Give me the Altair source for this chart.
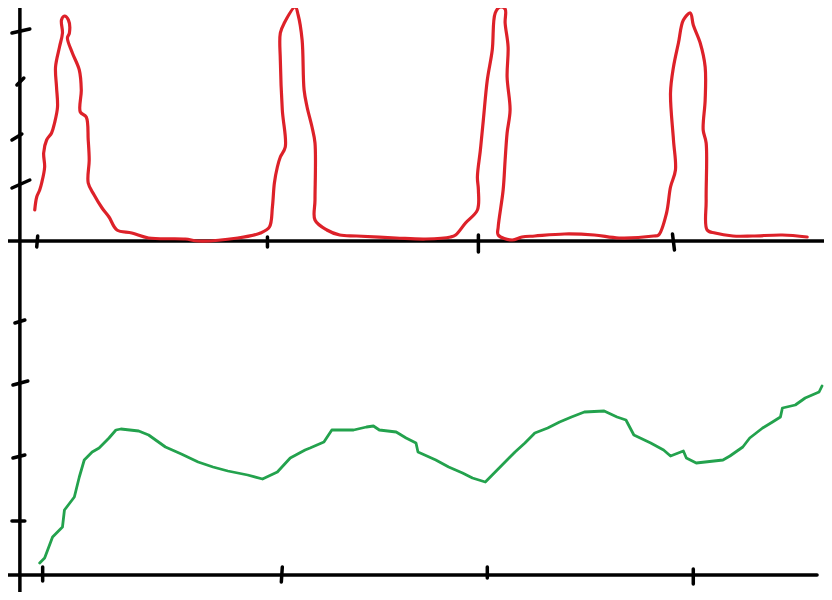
import altair as alt
import pandas as pd

# ---------------- data ----------------
# top panel (red): time vs value
red_t = [3.5, 3.7, 4.0, 4.2, 4.5, 4.4, 4.7, 5.2, 5.5, 5.8,
         5.7, 5.6, 6.0, 6.3, 6.2, 6.5, 6.9, 7.0, 6.8, 7.3,
         8.0, 8.2, 8.1, 8.7, 8.9, 9.0, 8.9, 9.5, 10.3, 11.0,
         11.8, 13.3, 15.0, 18.7, 20.0, 24.0, 26.3, 27.2, 27.5, 27.7,
         28.0, 28.3, 28.8, 28.5, 28.3, 28.3, 28.7, 29.8, 30.1, 30.5,
         30.7, 31.0, 31.5, 31.8, 31.8, 31.8, 33.0, 34.3, 36.0, 40.0,
         43.0, 45.5, 46.0, 47.0, 48.2, 48.3, 48.2, 48.5, 48.8, 49.2,
         49.7, 50.0, 50.5, 51.0, 51.0, 51.3, 51.2, 51.5, 51.2, 51.0,
         50.8, 50.3, 50.3, 51.7, 52.7, 54.0, 57.0, 60.0, 62.5, 66.0,
         66.5, 67.3, 67.7, 68.2, 68.0, 67.7, 68.0, 68.5, 69.0, 69.7,
         70.0, 70.7, 71.2, 71.2, 71.0, 71.3, 71.3, 71.4, 72.2, 74.0,
         76.0, 79.0, 81.5]
red_v = [3.1, 4.4, 5.1, 5.8, 7.4, 8.8, 10.1, 10.8, 11.8, 13.4,
         15.4, 17.4, 19.4, 20.8, 22.1, 22.5, 22.1, 20.8, 20.3, 18.8,
         17.1, 15.1, 12.9, 12.4, 10.1, 8.1, 5.8, 4.6, 3.3, 2.4,
         1.1, 0.8, 0.3, 0.2, 0.0, 0.3, 0.8, 1.4, 3.4, 5.8,
         7.4, 8.4, 9.4, 13.1, 18.1, 20.8, 21.8, 23.4, 22.6, 20.1,
         15.1, 13.4, 11.4, 9.8, 4.1, 2.1, 1.1, 0.6, 0.5, 0.3,
         0.2, 0.4, 0.6, 1.8, 3.1, 5.1, 6.4, 9.1, 12.1, 16.1,
         19.1, 22.8, 23.4, 23.2, 21.8, 19.4, 16.4, 13.1, 10.8, 8.1,
         5.1, 1.4, 0.6, 0.1, 0.4, 0.5, 0.7, 0.6, 0.3, 0.5,
         0.6, 2.8, 5.4, 7.1, 10.1, 14.8, 17.4, 19.8, 22.1, 22.8,
         21.6, 19.8, 17.4, 14.1, 11.1, 9.8, 4.1, 1.1, 0.8, 0.5,
         0.5, 0.6, 0.4]

# bottom panel (green): time vs value
green_t = [4.0, 4.5, 5.3, 6.3, 6.5, 7.5, 8.0, 8.5, 9.3, 10.0,
           11.0, 11.7, 12.2, 14.0, 15.0, 16.7, 18.3, 20.0, 21.5, 23.0,
           25.0, 26.5, 28.0, 29.3, 30.8, 31.3, 32.7, 33.5, 35.7, 37.0,
           37.7, 38.3, 40.0, 41.0, 42.0, 42.2, 44.0, 45.3, 46.7, 47.7,
           49.0, 50.0, 52.0, 53.0, 54.0, 55.3, 56.5, 57.7, 59.0, 61.0,
           62.3, 63.2, 64.0, 65.7, 67.0, 67.7, 69.0, 69.3, 70.3, 73.0,
           73.7, 75.0, 75.7, 77.0, 78.0, 78.8, 79.0, 80.3, 81.3, 82.7,
           83.0]
green_v = [1.2, 1.7, 3.8, 4.8, 6.5, 7.8, 9.8, 11.5, 12.3, 12.7,
           13.7, 14.5, 14.6, 14.4, 14.0, 12.8, 12.1, 11.3, 10.8, 10.4,
           10.0, 9.6, 10.3, 11.7, 12.5, 12.7, 13.3, 14.5, 14.5, 14.8,
           14.9, 14.5, 14.3, 13.7, 13.2, 12.3, 11.5, 10.8, 10.2, 9.7,
           9.3, 10.3, 12.3, 13.2, 14.2, 14.7, 15.3, 15.8, 16.3, 16.4,
           15.8, 15.5, 14.0, 13.2, 12.5, 11.9, 12.4, 11.7, 11.2, 11.5,
           11.9, 12.8, 13.7, 14.7, 15.3, 15.8, 16.7, 17.0, 17.7, 18.3,
           18.9]

# hand-drawn axes of the top panel: x-axis line, x ticks, y ticks (start/end)
red_axis_t1 = [0.8, 3.8, 27.0, 48.3, 67.9, 1.2, 1.7, 1.2, 1.2]
red_axis_t2 = [83.2, 3.7, 27.0, 48.3, 68.1, 3.0, 2.4, 2.2, 3.0]
red_axis_v1 = [0.0, 0.5, 0.4, 0.6, 0.7, 20.8, 15.6, 10.1, 5.3]
red_axis_v2 = [0.0, -0.6, -0.6, -1.1, -0.9, 21.2, 16.3, 10.7, 6.1]

# hand-drawn axes of the bottom panel: y-axis line (full height), x-axis line, x ticks, y ticks
green_axis_t1 = [2.0, 0.8, 4.3, 28.5, 49.2, 70.0, 1.5, 1.3, 1.3, 1.2]
green_axis_t2 = [2.0, 82.5, 4.3, 28.4, 49.2, 70.0, 2.5, 2.8, 2.5, 2.5]
green_axis_v1 = [56.7, 0.0, 0.8, 0.8, 0.8, 0.6, 25.2, 19.0, 11.7, 5.4]
green_axis_v2 = [-1.7, 0.0, -0.6, -0.7, -0.3, -0.9, 25.5, 19.4, 12.0, 5.4]

# ---------------- chart ----------------
RED = "#dd2129"
GREEN = "#23a24d"
INK = "#000000"

red_df = pd.DataFrame({"t": red_t, "v": red_v, "i": list(range(len(red_t)))})
green_df = pd.DataFrame({"t": green_t, "v": green_v, "i": list(range(len(green_t)))})
red_axes = pd.DataFrame({"t1": red_axis_t1, "t2": red_axis_t2, "v1": red_axis_v1, "v2": red_axis_v2})
green_axes = pd.DataFrame({"t1": green_axis_t1, "t2": green_axis_t2, "v1": green_axis_v1, "v2": green_axis_v2})

xs = alt.Scale(domain=[0.8, 83.2], nice=False, zero=False)
ys_red = alt.Scale(domain=[-35.1, 23.3], nice=False, zero=False)
ys_green = alt.Scale(domain=[-1.7, 56.7], nice=False, zero=False)

red_axis_layer = alt.Chart(red_axes).mark_rule(
    color=INK, strokeWidth=3.5, strokeCap="round", clip=True
).encode(
    x=alt.X("t1:Q", scale=xs, axis=None), x2="t2:Q",
    y=alt.Y("v1:Q", scale=ys_red, axis=None), y2="v2:Q",
)

green_axis_layer = alt.Chart(green_axes).mark_rule(
    color=INK, strokeWidth=3.5, strokeCap="round", clip=True
).encode(
    x=alt.X("t1:Q", scale=xs, axis=None), x2="t2:Q",
    y=alt.Y("v1:Q", scale=ys_green, axis=None), y2="v2:Q",
)

red_line = alt.Chart(red_df).mark_line(
    color=RED, strokeWidth=3.2, strokeCap="round", strokeJoin="round",
    interpolate="catmull-rom", clip=True
).encode(
    x=alt.X("t:Q", scale=xs, axis=None),
    y=alt.Y("v:Q", scale=ys_red, axis=None),
    order="i:Q",
)

green_line = alt.Chart(green_df).mark_line(
    color=GREEN, strokeWidth=2.8, strokeCap="round", strokeJoin="round", clip=True
).encode(
    x=alt.X("t:Q", scale=xs, axis=None),
    y=alt.Y("v:Q", scale=ys_green, axis=None),
    order="i:Q",
)

chart = alt.layer(
    red_axis_layer, green_axis_layer, red_line, green_line
).resolve_scale(y="independent").properties(
    width=816, height=584, padding=0, background="white"
).configure_view(stroke=None)

chart.save("out.html", embed_options={"renderer": "svg", "actions": False})
